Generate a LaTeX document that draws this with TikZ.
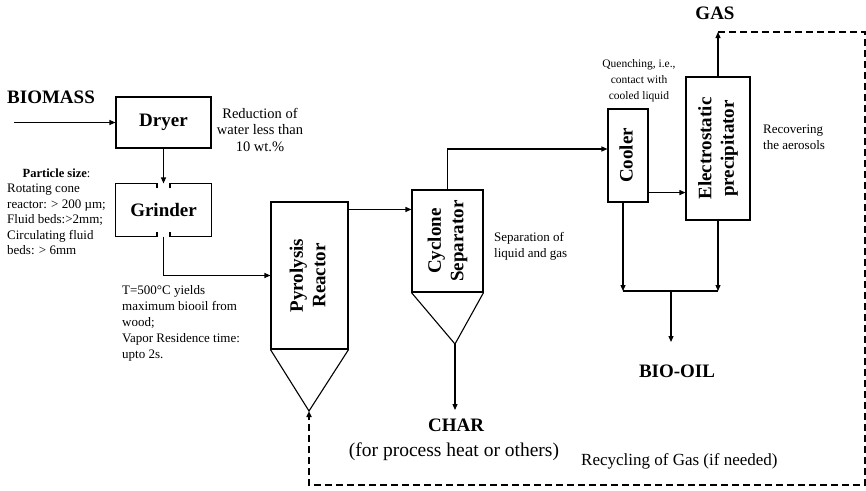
\documentclass[tikz,border=0pt]{standalone}
\usepackage{fontspec}
\setmainfont{Liberation Serif}
\usepackage{graphicx}
\usetikzlibrary{arrows.meta}

% stacked lines; [t] puts the node baseline on the first line
\newcommand{\txtstack}[2][l]{\begin{tabular}[t]{@{}#1@{}}#2\end{tabular}}
% upright-reading label set sideways inside a unit
\newcommand{\vlabel}[1]{\rotatebox{90}{\begin{tabular}{@{}c@{}}#1\end{tabular}}}

\begin{document}
\begin{tikzpicture}[x=1pt,y=-1pt,
  unit/.style={draw, line width=1.1pt, inner sep=0pt,
    font=\fontsize{19}{22.5}\selectfont\bfseries},
  flow/.style={line width=1.1pt, -{Triangle[length=6pt,width=5pt]}},
  pipe/.style={line width=1.1pt},
  recycle/.style={line width=1.6pt, dash pattern=on 7pt off 4pt,
    -{Triangle[length=6pt,width=5pt]}},
  stream/.style={inner sep=0pt, font=\fontsize{19}{22}\selectfont\bfseries},
  note/.style={inner sep=0pt, font=\fontsize{13}{16}\selectfont},
]
\useasboundingbox (0,0) rectangle (866,490);

% ---- process units ----
\node[unit, minimum width=95pt, minimum height=51pt] (dryer) at (163.5,122.5) {Dryer};
\node[unit, draw=none, minimum width=95pt, minimum height=52pt] (grinder) at (163.5,210) {Grinder};
\node[unit, minimum width=77pt, minimum height=147pt] (reactor) at (309.5,275.5) {\vlabel{Pyrolysis\\Reactor}};
\node[unit, minimum width=71pt, minimum height=102pt] (cyclone) at (447.5,241) {\vlabel{Cyclone\\Separator}};
\node[unit, minimum width=40pt, minimum height=93pt] (cooler) at (628,155.5) {\vlabel{Cooler}};
\node[unit, minimum width=64pt, minimum height=143pt] (esp) at (718,148.5) {\vlabel{Electrostatic\\precipitator}};

% grinder casing with inlet and outlet openings
\draw[pipe] ([xshift=-6.5pt,yshift=-5pt]grinder.north) -- ([xshift=-6.5pt]grinder.north)
  -- (grinder.north west) -- (grinder.south west) -- ([xshift=-6.5pt]grinder.south)
  -- ([xshift=-6.5pt,yshift=5pt]grinder.south);
\draw[pipe] ([xshift=6.5pt,yshift=-5pt]grinder.north) -- ([xshift=6.5pt]grinder.north)
  -- (grinder.north east) -- (grinder.south east) -- ([xshift=6.5pt]grinder.south)
  -- ([xshift=6.5pt,yshift=5pt]grinder.south);

% hoppers under reactor and cyclone
\coordinate (rapex) at (309,411);
\coordinate (capex) at (455,344);
\draw[pipe] (reactor.south west) -- (rapex) -- (reactor.south east);
\draw[pipe] (cyclone.south west) -- (capex) -- (cyclone.south east);

% ---- streams ----
\node[stream, anchor=base west] (biomass) at (7,103) {BIOMASS};
\coordinate (feed) at (14,122.5);
\coordinate (gastip) at (718,32);
\node[stream, anchor=base] (gas) at (715,19) {GAS};
\coordinate (chartip) at (455,410);
\node[stream, anchor=base] (char) at (456,431) {CHAR};
\node[inner sep=0pt, font=\fontsize{19.5}{22}\selectfont, anchor=base] (charuse) at (454,456) {(for process heat or others)};
\coordinate (jl) at (623,291);
\coordinate (jr) at (718,291);
\coordinate (jm) at (671,291);
\coordinate (oiltip) at (671,342);
\node[stream, anchor=base] (biooil) at (677,377) {BIO-OIL};
\coordinate (loopcorner) at (865,485);

% ---- connectors ----
\draw[flow] (feed) -- (dryer.west);
\draw[flow] (dryer.south) -- (grinder.north);
\draw[flow] (grinder.south) |- (reactor.west);
\draw[flow] ([yshift=-8pt]reactor.north east) -- ([yshift=-8pt]reactor.north east -| cyclone.west);
\draw[flow] (cyclone.north) |- ([yshift=6.5pt]cooler.west);
\draw[flow] ([yshift=10pt]cooler.south east) -- ([yshift=10pt]cooler.south east -| esp.west);
\draw[flow] (esp.north) -- (gastip);
\draw[flow] (capex) -- (chartip);
\draw[flow] ([xshift=-5pt]cooler.south) -- (jl);
\draw[flow] (esp.south) -- (jr);
\draw[pipe] (jl) -- (jr);
\draw[flow] (jm) -- (oiltip);
\draw[recycle] (gastip) -| (loopcorner) -| (rapex);

% ---- annotations ----
\node[note, font=\fontsize{14.5}{16.5}\selectfont, anchor=base] (drynote) at (260,118)
  {\txtstack[c]{Reduction of\\water less than\\10 wt.\%}};
\node[inner sep=0pt, font=\fontsize{12.5}{15}\selectfont, anchor=base] (sizehead) at (56.5,177)
  {\textbf{Particle size}:};
\node[note, font=\fontsize{13}{15.5}\selectfont, anchor=base west] (sizenote) at (7,192.5)
  {\txtstack{Rotating cone\\reactor: > 200 µm;\\Fluid beds:>2mm;\\Circulating fluid\\beds: > 6mm}};
\node[note, anchor=base west] (rxnote) at (122,294)
  {\txtstack{T=500°C yields\\maximum biooil from\\wood;\\Vapor Residence time:\\upto 2s.}};
\node[note, anchor=base west] (cycnote) at (494,241)
  {\txtstack{Separation of\\liquid and gas}};
\node[note, font=\fontsize{11.5}{16}\selectfont, anchor=base] (coolnote) at (639,67)
  {\txtstack[c]{Quenching, i.e.,\\contact with\\cooled liquid}};
\node[note, anchor=base west] (espnote) at (763,133)
  {\txtstack{Recovering\\the aerosols}};
\node[inner sep=0pt, font=\fontsize{17}{20}\selectfont, anchor=base west] (recyc) at (581,465)
  {Recycling of Gas (if needed)};
\end{tikzpicture}
\end{document}
